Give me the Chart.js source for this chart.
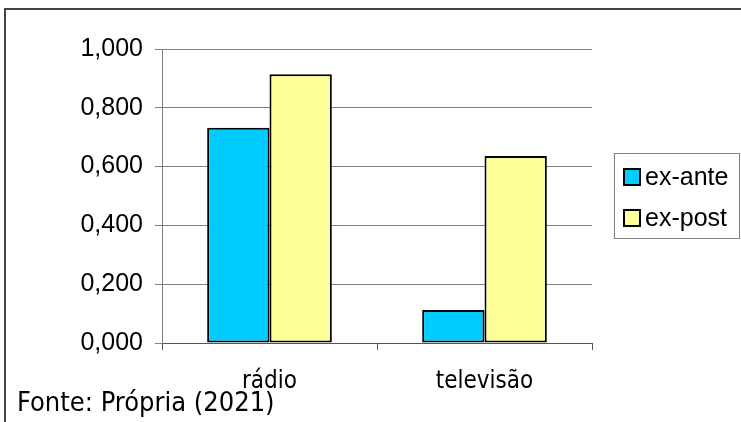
<!DOCTYPE html>
<html>
<head>
<meta charset="utf-8">
<script src="https://cdn.jsdelivr.net/npm/chart.js@4"></script>
<style>
  html, body { margin: 0; padding: 0; background: #ffffff; }
  #wrap { width: 741px; height: 422px; position: relative; }
</style>
</head>
<body>
<div id="wrap"><canvas id="canvas"></canvas></div>
<script>
"use strict";

const categories = ["rádio", "televisão"];
const series_names = ["ex-ante", "ex-post"];
const ex_ante = [0.732, 0.112];
const ex_post = [0.914, 0.636];
const y_ticks = [0, 0.2, 0.4, 0.6, 0.8, 1.0];
const source_text = "Fonte: Própria (2021)";

const colors = ["#00ccff", "#ffff99"];

// frame lines, custom legend box and source text
const decorations = {
  id: "decorations",
  beforeDraw: (chart) => {
    const c = chart.ctx;
    c.save();
    c.fillStyle = "#ffffff";
    c.fillRect(0, 0, chart.width, chart.height);
    c.strokeStyle = "#444444";
    c.lineWidth = 2;
    c.beginPath();
    c.moveTo(5, 422);
    c.lineTo(5, 9);
    c.lineTo(741, 9);
    c.stroke();
    c.restore();
  },
  afterDraw: (chart) => {
    const c = chart.ctx;
    c.save();
    // legend
    c.strokeStyle = "#808080";
    c.lineWidth = 1;
    c.strokeRect(614.5, 153.5, 125, 85);
    c.font = "25px 'Liberation Sans', Arial, sans-serif";
    c.textBaseline = "middle";
    c.fillStyle = "#000000";
    chart.data.datasets.forEach((ds, i) => {
      const y = 177 + i * 41;
      c.fillStyle = ds.backgroundColor;
      c.fillRect(624, y - 8, 16, 16);
      c.strokeStyle = "#000000";
      c.lineWidth = 2;
      c.strokeRect(624, y - 8, 16, 16);
      c.fillStyle = "#000000";
      c.fillText(ds.label, 645, y + 1);
    });
    // source
    c.font = "27px 'DejaVu Sans Condensed', 'DejaVu Sans', sans-serif";
    c.textBaseline = "alphabetic";
    c.fillText(source_text, 17, 411);
    c.restore();
  },
};

const ctx = document.getElementById("canvas").getContext("2d");

new Chart(ctx, {
  type: "bar",
  data: {
    labels: categories,
    datasets: [
      {
        label: series_names[0],
        data: ex_ante,
        backgroundColor: colors[0],
        borderColor: "#000000",
        borderWidth: 2,
        borderSkipped: false,
      },
      {
        label: series_names[1],
        data: ex_post,
        backgroundColor: colors[1],
        borderColor: "#000000",
        borderWidth: 2,
        borderSkipped: false,
      },
    ],
  },
  plugins: [decorations],
  options: {
    responsive: true,
    maintainAspectRatio: false,
    animation: false,
    devicePixelRatio: 1,
    layout: {
      padding: { left: 0, right: 149, top: 49, bottom: 0 },
    },
    plugins: {
      legend: { display: false },
      tooltip: { enabled: false },
    },
    datasets: {
      bar: {
        categoryPercentage: 0.58,
        barPercentage: 1.0,
      },
    },
    scales: {
      x: {
        afterFit: (scale) => {
          scale.height = 79;
        },
        grid: {
          drawOnChartArea: false,
          drawTicks: true,
          tickLength: 7,
          color: "#555555",
        },
        border: { color: "#555555", width: 1 },
        ticks: {
          color: "#000000",
          padding: 17,
          font: { family: "'DejaVu Sans Condensed', 'DejaVu Sans', sans-serif", size: 24 },
        },
      },
      y: {
        min: 0,
        max: 1,
        afterFit: (scale) => {
          scale.width = 162;
        },
        afterBuildTicks: (scale) => {
          scale.ticks = y_ticks.map((v) => ({ value: v }));
        },
        grid: {
          color: "#808080",
          lineWidth: 1,
          drawTicks: true,
          tickLength: 7,
        },
        border: { color: "#808080", width: 1 },
        ticks: {
          color: "#000000",
          padding: 12,
          font: { family: "'Liberation Sans', Arial, sans-serif", size: 25 },
          callback: (v) => Number(v).toFixed(3).replace(".", ","),
        },
      },
    },
  },
});
</script>
</body>
</html>
